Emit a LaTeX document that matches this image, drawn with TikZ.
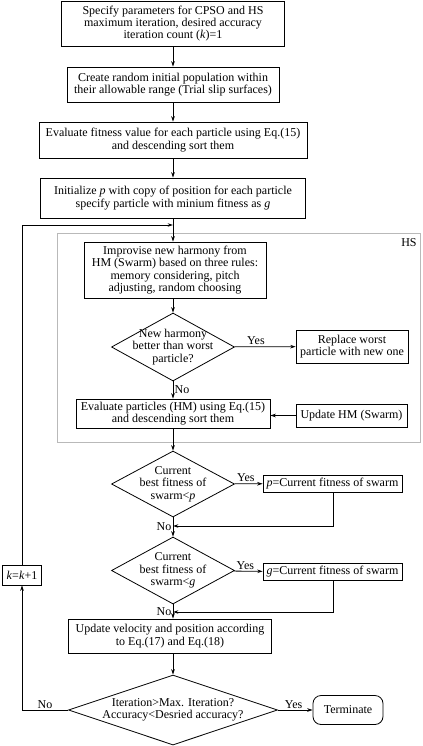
\documentclass[tikz,border=0pt]{standalone}
\usepackage{fontspec}
\setmainfont{Liberation Serif}
\usetikzlibrary{shapes.geometric,arrows.meta}
\begin{document}
\begin{tikzpicture}[x=0.75pt,y=-0.75pt,
  font=\fontsize{9}{9.3}\selectfont,
  line width=0.6pt,
  box/.style={draw, rectangle, inner sep=0pt, align=center},
  dia/.style={draw, diamond, inner sep=0pt},
  dtext/.style={align=center, inner sep=0pt},
  term/.style={draw, rectangle, rounded corners=6pt, inner sep=0pt, align=center},
  arr/.style={-{Stealth[length=4pt,width=2.6pt]}},
  lbl/.style={inner sep=1pt}
]
\useasboundingbox (0,0) rectangle (423,746);
% HS frame
\draw[gray!55, line width=0.6pt] (57,233) rectangle (420,442);
\node[lbl] (hs) at (409,243) {HS};

\node[box, minimum width=223*0.75pt, minimum height=45*0.75pt] (b1) at (173,23.5)
  {Specify parameters for CPSO and HS\\maximum iteration, desired accuracy\\iteration count (\textit{k})=1};
\node[box, minimum width=212*0.75pt, minimum height=35*0.75pt] (b2) at (173,84.5)
  {Create random initial population within\\their allowable range (Trial slip surfaces)};
\node[box, minimum width=268*0.75pt, minimum height=36*0.75pt] (b3) at (173,140)
  {Evaluate fitness value for each particle using Eq.(15)\\and descending sort them};
\node[box, minimum width=265*0.75pt, minimum height=40*0.75pt] (b4) at (173,198)
  {Initialize \textit{p} with copy of position for each particle\\specify particle with minium fitness as \textit{g}};
\coordinate (j) at (173,225);
\node[box, minimum width=182*0.75pt, minimum height=56*0.75pt] (b5) at (175,270)
  {Improvise new harmony from\\HM (Swarm) based on three rules:\\memory considering, pitch\\adjusting, random choosing};
\node[dia, minimum width=123*0.75pt, minimum height=68*0.75pt,
  label={[dtext]center:{New harmony\\better than worst\\particle?}}] (d1) at (173,347) {};
\node[box, minimum width=112*0.75pt, minimum height=33*0.75pt] (rep) at (352,346.5)
  {Replace worst\\particle with new one};
\node[box, minimum width=194*0.75pt, minimum height=29*0.75pt] (b6) at (173,413.5)
  {Evaluate particles (HM) using Eq.(15)\\and descending sort them};
\node[box, minimum width=111*0.75pt, minimum height=23*0.75pt] (upd) at (351.5,415.5)
  {Update HM (Swarm)};
\node[dia, minimum width=123*0.75pt, minimum height=66*0.75pt,
  label={[dtext]center:{Current\\best fitness of\\swarm<\textit{p}}}] (d2) at (173,484) {};
\node[box, minimum width=139*0.75pt, minimum height=17*0.75pt] (pb) at (332.5,483.5)
  {\textit{p}=Current fitness of swarm};
\coordinate (pc) at (333,526);
\coordinate (pm) at (173,526);
\node[dia, minimum width=123*0.75pt, minimum height=67*0.75pt,
  label={[dtext]center:{Current\\best fitness of\\swarm<\textit{g}}}] (d3) at (173,570.5) {};
\node[box, minimum width=139*0.75pt, minimum height=17*0.75pt] (gb) at (332.5,572)
  {\textit{g}=Current fitness of swarm};
\coordinate (gc) at (333,612);
\coordinate (gm) at (173,612);
\node[box, minimum width=203*0.75pt, minimum height=34*0.75pt] (b7) at (170,636)
  {Update velocity and position according\\to Eq.(17) and Eq.(18)};
\node[dia, minimum width=209*0.75pt, minimum height=70*0.75pt,
  label={[dtext]center:{Iteration>Max. Iteration?\\Accuracy<Desried accuracy?}}] (d4) at (173,710) {};
\node[term, minimum width=70*0.75pt, minimum height=29*0.75pt] (t) at (348,710)
  {Terminate};
\node[box, minimum width=39*0.75pt, minimum height=20*0.75pt] (k) at (22,575)
  {\textit{k}=\textit{k}+1};
\coordinate (kl) at (22,710);
\coordinate (ku) at (22,225);

% connectors
\draw[arr] (b1) -- (b2);
\draw[arr] (b2) -- (b3);
\draw[arr] (b3) -- (b4);
\draw[arr] (b4.south) -- (b5.north -| b4.south);
\draw[arr] (b5.south -| d1.north) -- (d1);
\draw[arr] (d1) -- node[lbl, above, pos=0.35] {Yes} (rep);
\draw[arr] (d1) -- node[lbl, right, pos=0.45] {No} (b6);
\draw[arr] (upd) -- (upd -| b6.east);
\draw[arr] (b6) -- (d2);
\draw[arr] (d2) -- node[lbl, above, pos=0.4] {Yes} (pb);
\draw[arr] (pb.south -| pc) -- (pc) -- (pm);
\draw[arr] (d2) -- node[lbl, left, pos=0.5] {No} (d3);
\draw[arr] (d3) -- node[lbl, above, pos=0.4] {Yes} (gb);
\draw[arr] (gb.south -| gc) -- (gc) -- (gm);
\draw[arr] (d3) -- node[lbl, left, pos=0.5] {No} (b7.north -| d3.south);
\draw[arr] (b7.south -| d4.north) -- (d4);
\draw[arr] (d4) -- node[lbl, above, pos=0.45] {Yes} (t);
\draw[arr] (d4) -- node[lbl, above, pos=0.5] {No} (kl) -- (k);
\draw[arr] (k) -- (ku) -- (j);
\end{tikzpicture}
\end{document}
